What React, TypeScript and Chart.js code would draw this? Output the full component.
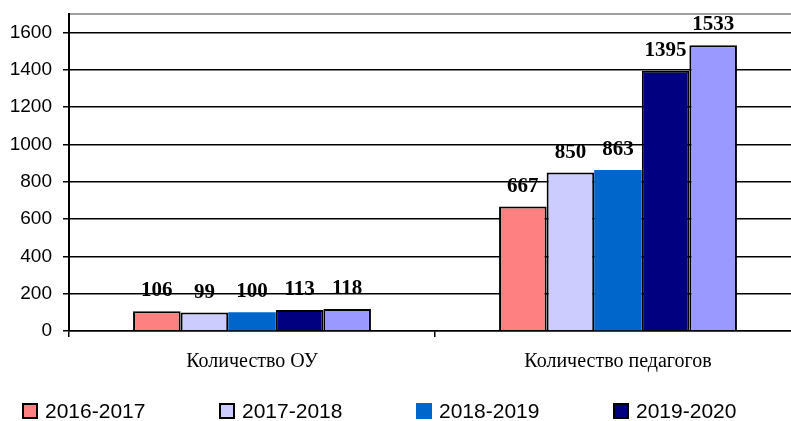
import React, { useEffect, useRef } from "react";
import { Chart, registerables } from "chart.js";

Chart.register(...registerables);

const categories = ["Количество ОУ", "Количество педагогов"];
const seriesNames = ["2016-2017", "2017-2018", "2018-2019", "2019-2020", "2020-2021"];
const values2016 = [106, 667];
const values2017 = [99, 850];
const values2018 = [100, 863];
const values2019 = [113, 1395];
const values2020 = [118, 1533];
const yTicks = [0, 200, 400, 600, 800, 1000, 1200, 1400, 1600];
const yMax = 1700;
const seriesColors = ["#FF8080", "#CCCCFF", "#0066CC", "#000080", "#9999FF"];
const seriesBorderWidths = [2, 2, 0, 2, 2];

const allValues = [values2016, values2017, values2018, values2019, values2020];

const dataLabelPlugin = {
  id: "dataLabels",
  afterDatasetsDraw(chart: any) {
    const ctx = chart.ctx;
    ctx.save();
    ctx.font = "bold 21px 'Liberation Serif', serif";
    ctx.fillStyle = "#000";
    ctx.textAlign = "center";
    ctx.textBaseline = "alphabetic";
    chart.data.datasets.forEach((ds: any, di: number) => {
      const meta = chart.getDatasetMeta(di);
      meta.data.forEach((el: any, i: number) => {
        ctx.fillText(String(ds.data[i]), el.x, el.y - 15);
      });
    });
    ctx.restore();
  },
};

const legendPlugin = {
  id: "customLegend",
  afterDraw(chart: any) {
    const ctx = chart.ctx;
    const startX = 23;
    const step = 197;
    const cy = 411;
    ctx.save();
    ctx.font = "21px 'Liberation Sans', sans-serif";
    ctx.textBaseline = "middle";
    ctx.textAlign = "left";
    chart.data.datasets.forEach((ds: any, i: number) => {
      const x = startX + i * step;
      ctx.fillStyle = ds.backgroundColor;
      if (ds.borderWidth > 0) {
        ctx.fillRect(x, cy - 7, 14, 14);
        ctx.lineWidth = 2;
        ctx.strokeStyle = "#000";
        ctx.strokeRect(x, cy - 7, 14, 14);
      } else {
        ctx.fillRect(x - 1, cy - 8, 16, 16);
      }
      ctx.fillStyle = "#000";
      ctx.fillText(ds.label, x + 22, cy + 1);
    });
    ctx.restore();
  },
};

export default function App() {
  const ref = useRef<HTMLCanvasElement | null>(null);

  useEffect(() => {
    if (!ref.current) return;
    const chart = new Chart(ref.current, {
      type: "bar",
      data: {
        labels: categories,
        datasets: seriesNames.map((name, i) => ({
          label: name,
          data: allValues[i],
          backgroundColor: seriesColors[i],
          borderColor: "#000",
          borderWidth: seriesBorderWidths[i],
          categoryPercentage: 0.65,
          barPercentage: 1,
        })),
      },
      options: {
        responsive: false,
        animation: false,
        devicePixelRatio: 1,
        layout: { padding: { top: 14, right: 9, bottom: 40, left: 0 } },
        plugins: {
          legend: { display: false },
          tooltip: { enabled: false },
        },
        scales: {
          x: {
            grid: {
              display: true,
              drawOnChartArea: false,
              drawTicks: true,
              tickLength: 6,
              color: "#000",
              lineWidth: 1.5,
              offset: true,
            },
            border: { display: true, color: "#000", width: 1.5 },
            ticks: {
              color: "#000",
              font: { family: "'Liberation Serif', serif", size: 20 },
              padding: 13,
              maxRotation: 0,
            },
            afterFit: (scale: any) => {
              scale.height = 50;
              scale.paddingLeft = 0;
              scale.paddingRight = 0;
            },
          },
          y: {
            min: 0,
            max: yMax,
            afterBuildTicks: (axis: any) => {
              axis.ticks = [...yTicks, yMax].map((v) => ({ value: v }));
            },
            grid: {
              color: (c: any) => (c.tick && c.tick.value === yMax ? "#a0a0a0" : "#000"),
              tickColor: (c: any) => (c.tick && c.tick.value === yMax ? "rgba(0,0,0,0)" : "#000"),
              lineWidth: (c: any) => (c.tick && c.tick.value === yMax ? 2 : 1.5),
              tickLength: 6,
            },
            border: { display: true, color: "#000", width: 2 },
            ticks: {
              color: "#000",
              font: { family: "'Liberation Sans', sans-serif", size: 19 },
              padding: 11,
              callback: (v: any) => (Number(v) > yTicks[yTicks.length - 1] ? "" : String(v)),
            },
            afterFit: (scale: any) => {
              scale.width = 69;
              scale.paddingTop = 0;
              scale.paddingBottom = 0;
            },
          },
        },
      },
      plugins: [dataLabelPlugin, legendPlugin],
    });
    return () => chart.destroy();
  }, []);

  return (
    <div
      style={{
        position: "fixed",
        left: 0,
        top: 0,
        width: 791,
        height: 421,
        overflow: "hidden",
        background: "#fff",
      }}
    >
      <canvas ref={ref} width={810} height={421} style={{ display: "block" }} />
    </div>
  );
}
